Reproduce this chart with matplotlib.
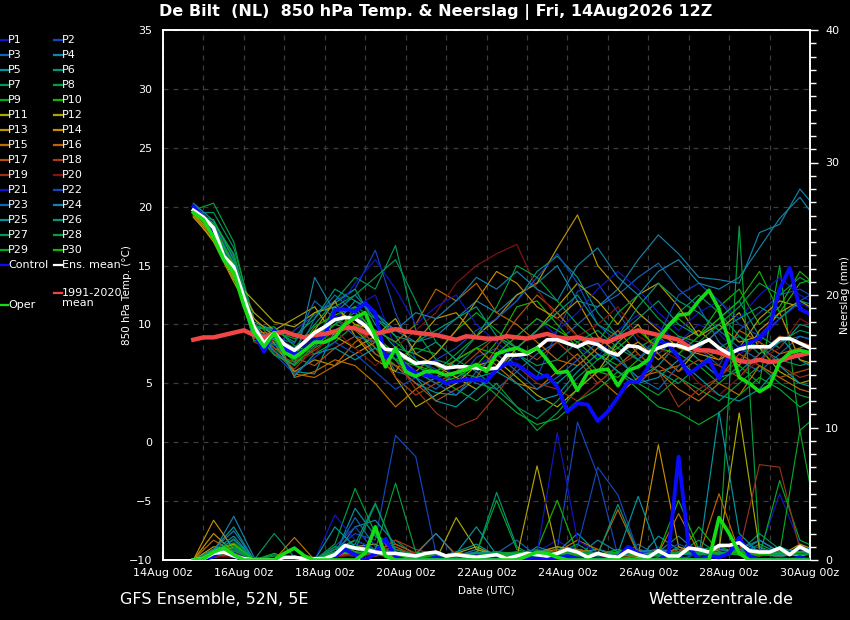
import matplotlib.pyplot as plt
from matplotlib.lines import Line2D
from matplotlib.ticker import MultipleLocator
import numpy as np

# ---- data (read off the Wetterzentrale plume, 14Aug2026 12Z run) ----
# 6-hourly series start 14Aug 18z, 12-hourly member series start 14Aug 18z
day_ticks = [0, 2, 4, 6, 8, 10, 12, 14, 16]
day_labels = ['14Aug 00z', '16Aug 00z', '18Aug 00z', '20Aug 00z', '22Aug 00z',
              '24Aug 00z', '26Aug 00z', '28Aug 00z', '30Aug 00z']

ens_mean = [19.7, 19.1, 18.2, 15.8, 14.9, 12.3, 9.8, 8.4, 9.3, 8.3, 7.8, 8.5, 9.3, 9.8,
            10.4, 10.6, 10.5, 9.9, 8.8, 7.9, 7.8, 7.2, 6.7, 6.8, 6.7, 6.3, 6.4, 6.4,
            6.3, 6.2, 6.3, 7.4, 7.4, 7.5, 8.0, 8.7, 8.7, 8.4, 8.1, 8.5, 8.3, 7.7, 7.4,
            8.2, 8.1, 7.6, 8.0, 8.3, 8.2, 7.9, 8.3, 8.7, 8.0, 7.5, 7.9, 8.1, 8.1, 8.1,
            8.8, 8.8, 8.4, 8.0]
control = [20.0, 19.0, 17.9, 15.6, 14.9, 11.9, 9.3, 7.7, 9.5, 8.1, 7.4, 7.8, 8.5, 9.1,
           11.2, 11.3, 11.1, 11.8, 11.0, 7.2, 7.7, 6.4, 5.9, 5.7, 5.5, 5.0, 5.2, 5.3,
           5.3, 5.2, 6.2, 6.7, 6.6, 6.0, 5.4, 5.7, 4.7, 2.6, 3.3, 3.2, 1.8, 2.6, 3.8,
           5.1, 5.1, 6.4, 8.6, 8.3, 7.2, 5.8, 6.4, 7.0, 5.4, 7.4, 8.0, 8.4, 8.9, 9.8,
           13.0, 14.8, 11.3, 10.9]
oper = [19.5, 18.9, 17.4, 15.5, 14.4, 11.6, 9.3, 8.1, 9.3, 7.6, 7.2, 7.8, 8.5, 8.5,
        8.9, 10.0, 10.6, 11.0, 9.0, 6.4, 8.0, 6.0, 5.6, 6.0, 6.0, 5.7, 5.9, 6.2, 6.6,
        6.0, 7.5, 7.8, 8.0, 7.6, 8.0, 7.0, 5.9, 6.0, 4.4, 5.9, 6.1, 6.2, 4.8, 6.1,
        6.4, 7.0, 8.8, 9.9, 10.8, 10.9, 12.0, 12.9, 11.3, 8.5, 5.5, 5.0, 4.3, 4.8,
        6.8, 7.6, 7.8, 7.6]
clim = [8.7, 8.9, 8.9, 9.1, 9.3, 9.5, 9.1, 8.9, 9.2, 9.4, 9.1, 8.9, 9.1, 9.2, 9.4,
        9.7, 9.7, 9.3, 9.2, 9.4, 9.6, 9.4, 9.3, 9.2, 9.1, 8.9, 8.7, 9.0, 8.9, 8.8,
        8.8, 9.0, 8.9, 8.8, 9.0, 9.2, 8.9, 8.8, 8.9, 8.7, 8.7, 8.5, 8.9, 9.2, 9.5,
        9.3, 9.1, 8.9, 8.7, 8.1, 7.8, 7.8, 7.6, 7.3, 6.9, 6.8, 7.0, 6.8, 6.9, 7.2,
        7.4, 7.6]

mean_precip = [0, 0.1, 0.5, 0.6, 0.3, 0.1, 0, 0, 0, 0.2, 0.2, 0.1, 0.1, 0.1, 0.4, 1.1,
               0.9, 0.8, 0.6, 0.5, 0.5, 0.4, 0.3, 0.5, 0.6, 0.3, 0.4, 0.3, 0.2, 0.3,
               0.4, 0.1, 0.3, 0.5, 0.4, 0.3, 0.5, 0.8, 0.6, 0.2, 0.5, 0.3, 0.2, 0.7,
               0.4, 0.2, 0.7, 0.3, 0.3, 0.9, 0.8, 0.6, 1.1, 1.1, 1.3, 0.7, 0.6, 0.6,
               0.9, 0.4, 1.0, 0.6]
control_precip = [0, 0, 0.3, 0.8, 0.3, 0, 0, 0, 0, 0, 0, 0, 0, 0, 0.3, 0.8, 0.4, 0,
                  0.5, 1.6, 0.2, 0, 0, 0, 0.2, 0, 0, 0, 0, 0, 0.1, 0.1, 0.1, 0.1, 0.1,
                  0.1, 0.1, 0.3, 0.1, 0.1, 0.1, 0.1, 0.2, 1.0, 0.5, 0.2, 0, 0.5, 7.8,
                  1.0, 0, 0.3, 0.2, 0.5, 1.7, 0.3, 0, 0, 0.1, 0, 0.2, 0]
oper_precip = [0, 0.1, 0.6, 0.9, 0.4, 0, 0, 0, 0, 0.5, 0.9, 0.3, 0, 0, 0, 0, 0, 0.5,
               2.5, 0.3, 0, 0, 0, 0, 0, 0, 0, 0, 0, 0, 0, 0, 0, 0.3, 0.6, 0.5, 0.2, 0,
               0, 0, 0, 0, 0, 0, 0, 0, 0, 0, 0, 0, 0, 0, 3.2, 2.0, 0.5, 0, 0, 0, 0, 0,
               0, 0]

member_temp = [
    [19.8, 18.0, 15.2, 9.5, 8.8, 7.5, 8.8, 10.6, 11.5, 12.5, 8.0, 6.5, 7.0, 5.5, 6.5, 7.5, 9.0, 10.5, 9.0, 8.0, 7.2, 9.5, 10.8, 9.8, 8.5, 10.0, 9.2, 7.5, 8.5, 10.5, 11.8, 11.0],
    [20.0, 17.8, 15.5, 9.0, 8.2, 9.5, 10.8, 12.0, 13.0, 16.3, 11.0, 7.0, 6.2, 5.0, 7.2, 8.0, 6.5, 5.5, 9.5, 12.8, 13.5, 11.0, 8.5, 7.5, 9.0, 8.0, 6.5, 9.5, 11.0, 12.5, 13.0, 12.0],
    [20.2, 18.4, 14.5, 10.0, 9.2, 7.0, 10.5, 12.5, 11.0, 9.0, 6.0, 5.5, 4.5, 6.0, 5.0, 4.5, 6.0, 7.5, 8.5, 10.0, 11.5, 12.5, 14.0, 15.2, 13.0, 11.5, 8.5, 7.0, 6.0, 7.5, 9.0, 8.5],
    [20.1, 18.6, 15.0, 9.2, 9.0, 8.0, 9.0, 10.0, 12.0, 11.0, 9.5, 8.5, 9.0, 10.5, 12.0, 11.0, 12.5, 13.5, 15.0, 12.0, 11.5, 13.0, 15.5, 17.6, 16.0, 14.0, 13.8, 13.5, 17.8, 18.5, 21.5, 19.5],
    [19.9, 18.1, 14.8, 9.0, 7.8, 6.0, 5.8, 9.5, 9.8, 7.5, 6.5, 5.0, 4.2, 4.0, 5.5, 6.0, 7.5, 6.0, 5.0, 6.5, 8.0, 7.0, 5.5, 6.5, 8.5, 7.0, 5.5, 6.0, 7.5, 9.0, 7.0, 6.0],
    [19.6, 18.3, 14.2, 10.2, 9.5, 8.5, 11.0, 11.8, 13.0, 10.0, 8.0, 7.5, 8.5, 7.0, 9.0, 10.5, 12.0, 14.5, 15.8, 14.0, 11.0, 9.0, 10.5, 12.0, 10.0, 9.0, 10.5, 12.0, 9.0, 8.0, 10.0, 9.5],
    [19.5, 19.5, 16.5, 10.5, 8.5, 8.0, 10.0, 12.0, 14.0, 13.0, 16.7, 9.5, 7.0, 6.5, 8.0, 9.0, 7.5, 6.5, 7.0, 8.5, 9.5, 8.0, 7.0, 8.5, 11.0, 12.5, 11.0, 9.0, 8.0, 7.0, 6.5, 7.0],
    [19.7, 20.3, 17.0, 9.8, 8.0, 6.5, 8.0, 9.0, 11.5, 10.5, 9.0, 6.5, 5.5, 4.5, 3.5, 5.0, 3.0, 1.0, 2.5, 4.5, 6.0, 7.5, 5.0, 4.0, 5.5, 4.5, 3.5, 5.0, 6.5, 5.0, 4.0, 3.5],
    [19.4, 18.0, 15.3, 9.6, 9.8, 8.2, 7.5, 8.5, 10.0, 9.0, 7.0, 8.0, 7.5, 9.5, 11.0, 9.5, 8.0, 9.5, 11.0, 9.0, 7.5, 6.5, 8.0, 9.0, 7.5, 6.5, 5.0, 6.5, 5.0, 15.0, 1.0, 2.5],
    [19.3, 17.7, 14.6, 9.0, 8.6, 6.8, 8.5, 10.0, 9.5, 8.0, 6.5, 6.0, 5.0, 5.5, 6.5, 8.5, 11.5, 12.0, 10.0, 8.0, 6.0, 5.5, 7.0, 9.0, 10.5, 9.0, 11.5, 13.0, 10.0, 11.5, 14.5, 13.0],
    [19.1, 17.2, 13.8, 12.0, 10.2, 9.8, 11.0, 11.5, 10.0, 9.5, 5.5, 3.0, 4.0, 5.0, 6.5, 7.0, 5.5, 4.0, 3.0, 4.5, 6.0, 8.5, 10.0, 7.5, 6.0, 8.0, 9.5, 11.0, 8.0, 6.0, 5.0, 5.5],
    [19.2, 17.5, 14.0, 11.0, 9.5, 10.5, 11.5, 9.0, 8.0, 9.0, 10.5, 7.5, 6.5, 5.5, 4.5, 6.0, 8.0, 9.5, 11.5, 13.5, 12.0, 10.0, 12.5, 13.5, 11.5, 9.0, 10.0, 8.5, 9.0, 11.0, 12.0, 11.0],
    [19.3, 17.0, 13.6, 10.5, 9.0, 7.8, 9.5, 12.0, 9.0, 7.0, 6.0, 8.5, 10.5, 11.0, 9.0, 10.5, 12.5, 13.5, 16.5, 19.3, 15.0, 13.0, 11.0, 9.5, 8.0, 7.5, 7.0, 8.0, 10.5, 12.0, 11.5, 10.0],
    [19.4, 17.6, 14.4, 10.0, 8.4, 6.0, 7.0, 6.5, 7.5, 8.5, 7.5, 6.0, 7.5, 9.5, 12.0, 14.5, 13.5, 11.5, 10.5, 12.0, 9.0, 7.5, 8.5, 7.0, 8.5, 9.5, 8.0, 6.5, 9.5, 11.0, 7.0, 6.5],
    [19.2, 17.4, 14.2, 9.4, 9.2, 5.5, 6.0, 7.0, 6.5, 5.0, 3.0, 4.5, 5.5, 7.0, 8.0, 6.5, 5.0, 4.5, 6.0, 7.5, 5.5, 4.0, 5.5, 6.0, 4.5, 3.5, 5.0, 4.0, 6.5, 5.5, 4.5, 4.0],
    [19.5, 17.9, 15.1, 8.8, 9.0, 5.8, 5.5, 6.5, 8.5, 9.5, 8.5, 10.0, 13.0, 12.0, 13.5, 11.0, 10.0, 8.5, 7.0, 6.5, 8.0, 9.5, 7.5, 6.0, 6.5, 8.0, 7.0, 9.5, 8.5, 7.5, 8.0, 8.5],
    [19.6, 18.2, 14.7, 9.2, 8.0, 7.2, 6.5, 8.0, 9.0, 7.5, 6.5, 5.0, 3.5, 4.5, 5.5, 8.0, 10.5, 12.5, 11.0, 9.0, 7.5, 6.0, 5.0, 6.5, 5.5, 4.0, 5.5, 7.5, 6.5, 5.5, 6.0, 6.5],
    [19.8, 18.5, 15.6, 9.5, 7.5, 6.8, 7.8, 9.0, 10.5, 8.0, 5.5, 4.0, 5.0, 6.0, 7.5, 9.0, 8.0, 7.0, 8.5, 7.0, 5.0, 6.5, 8.0, 7.5, 6.0, 7.0, 6.5, 5.5, 7.5, 9.0, 8.5, 8.0],
    [19.7, 18.3, 14.9, 8.5, 7.8, 6.2, 8.0, 10.5, 9.5, 8.5, 7.0, 4.5, 2.5, 1.3, 2.0, 4.0, 6.5, 5.0, 4.5, 3.5, 5.0, 6.5, 7.5, 6.0, 3.0, 4.5, 5.5, 7.0, 8.5, 6.5, 5.5, 6.0],
    [19.9, 18.7, 15.8, 9.0, 8.6, 7.0, 7.5, 9.5, 8.0, 6.5, 8.0, 9.5, 11.0, 13.5, 15.0, 16.0, 16.8, 13.0, 10.5, 9.0, 10.0, 11.5, 9.0, 8.0, 7.0, 5.0, 4.0, 5.5, 7.0, 8.0, 10.5, 9.5],
    [20.0, 18.2, 15.4, 9.6, 8.2, 7.6, 9.0, 11.0, 13.5, 15.5, 13.0, 10.0, 11.5, 12.5, 10.0, 8.5, 7.0, 8.0, 9.5, 11.0, 13.0, 14.5, 13.0, 11.0, 9.5, 11.0, 12.0, 10.5, 12.5, 14.0, 12.5, 11.5],
    [20.2, 18.5, 15.7, 9.8, 7.5, 5.8, 7.2, 8.5, 7.5, 6.0, 4.5, 5.5, 7.0, 8.0, 9.5, 10.5, 12.0, 14.0, 16.0, 13.5, 10.0, 8.5, 7.0, 9.0, 12.5, 13.5, 12.0, 10.0, 9.0, 10.5, 12.0, 13.0],
    [20.1, 18.0, 14.8, 9.3, 8.9, 8.4, 12.0, 10.5, 9.0, 8.5, 7.5, 6.0, 5.0, 4.0, 6.0, 7.5, 6.0, 4.5, 5.5, 7.0, 8.5, 7.0, 5.5, 4.5, 6.5, 8.0, 9.5, 8.0, 7.0, 8.5, 9.0, 8.5],
    [20.3, 18.8, 15.9, 10.0, 7.7, 6.5, 14.0, 11.0, 12.5, 10.5, 9.5, 11.0, 10.5, 12.0, 14.0, 13.0, 14.5, 13.0, 12.0, 15.0, 16.5, 14.0, 12.5, 14.5, 15.5, 13.5, 13.0, 14.0, 16.5, 19.0, 20.8, 18.5],
    [19.9, 17.9, 14.5, 8.6, 8.8, 5.6, 7.5, 8.0, 7.0, 8.0, 7.0, 5.5, 3.5, 3.0, 4.5, 6.0, 5.0, 3.5, 4.0, 6.0, 7.5, 6.0, 5.0, 5.5, 7.0, 5.5, 4.0, 3.5, 4.5, 6.5, 5.0, 4.5],
    [19.6, 18.4, 15.2, 9.7, 9.6, 9.0, 10.5, 13.0, 12.0, 11.0, 9.0, 8.5, 9.5, 10.5, 11.5, 9.0, 8.0, 9.5, 11.0, 12.5, 10.0, 9.0, 11.5, 13.5, 12.0, 11.0, 9.5, 10.5, 11.5, 10.5, 12.0, 11.5],
    [19.5, 18.1, 14.6, 9.1, 8.3, 7.0, 8.5, 11.5, 12.5, 14.0, 15.5, 12.0, 8.5, 7.0, 6.0, 4.5, 3.0, 2.0, 3.5, 5.5, 7.0, 8.5, 7.0, 6.0, 5.0, 6.5, 8.0, 9.0, 7.5, 8.5, 9.5, 9.0],
    [19.4, 18.6, 16.0, 9.9, 9.4, 8.8, 9.2, 10.0, 11.0, 9.5, 8.5, 7.0, 6.0, 7.5, 9.0, 11.5, 15.0, 14.0, 12.0, 10.0, 8.5, 11.0, 12.5, 10.5, 9.0, 8.5, 10.0, 11.5, 13.5, 12.5, 14.0, 13.0],
    [19.3, 18.9, 15.5, 9.4, 7.4, 6.6, 8.2, 9.5, 10.5, 9.0, 7.0, 6.5, 5.5, 6.0, 5.5, 4.0, 2.5, 1.5, 2.0, 3.5, 4.5, 6.0, 4.5, 3.0, 2.5, 1.5, 2.5, 4.0, 5.5, 4.5, 3.0, 4.0],
    [19.6, 18.2, 15.0, 9.3, 8.7, 7.3, 9.8, 10.8, 11.5, 9.0, 7.5, 6.5, 6.0, 7.0, 8.0, 7.5, 9.0, 10.5, 9.5, 8.5, 7.0, 8.0, 9.5, 8.0, 7.5, 9.0, 10.5, 12.0, 14.5, 11.0, 13.5, 14.0],
]

member_precip = [
    [0, 0.3, 0.8, 0, 0, 0, 0, 0.5, 1.2, 0.8, 0.3, 0, 0, 0.5, 0, 0.3, 0, 0.6, 1.5, 0.5, 0, 0.4, 0, 1.0, 0.3, 0, 0.8, 1.5, 0.6, 5.0, 1.2, 0.5],
    [0, 0.5, 0.3, 0, 0, 0.2, 0, 0.8, 2.0, 1.5, 9.4, 7.8, 0.5, 0, 0.4, 0, 0.3, 0.5, 0.8, 10.4, 6.4, 0.3, 0, 0.5, 0.2, 0, 0.4, 0.6, 1.0, 0.3, 0.5, 0.4],
    [0, 0.2, 0.5, 0, 0, 0, 0, 1.0, 0.6, 0.3, 0.5, 0, 0.2, 0, 0, 0.5, 1.5, 0.3, 0, 0.6, 0.4, 0, 1.2, 0.3, 0, 0.5, 0.3, 1.0, 0.5, 0.2, 0.6, 0.3],
    [0, 0.6, 3.3, 0.2, 0, 0, 0, 0.4, 2.5, 3.0, 1.2, 0.5, 0, 0.3, 0.8, 0.4, 0, 1.0, 0.5, 0.3, 1.5, 0.6, 0.3, 0.6, 1.8, 0.5, 0.2, 0.8, 1.5, 0.6, 0.4, 0.8],
    [0, 0.8, 2.5, 0, 0, 0, 0, 0.3, 3.9, 1.8, 0.6, 0, 0.2, 0.6, 1.2, 0.3, 0.5, 0, 0.6, 2.0, 0.5, 0.3, 0, 1.8, 0.8, 0.2, 11.2, 2.0, 0.5, 1.0, 0.4, 0.6],
    [0, 0.4, 1.0, 0, 0, 0.3, 0, 0.5, 1.5, 0.8, 0.4, 0, 0.3, 0.2, 0.5, 5.1, 1.0, 0.2, 0.5, 1.2, 0.3, 0.8, 0.4, 0.2, 1.0, 0.3, 0.6, 0.4, 1.2, 0.5, 0.8, 0.3],
    [0, 0.3, 0.6, 0, 2.0, 0.2, 0, 0.6, 1.0, 0.5, 1.5, 0.3, 0, 0.4, 0.2, 0.6, 0.3, 0.5, 1.0, 0.4, 0.2, 0.6, 0.8, 0.3, 0.5, 1.5, 0.4, 0.6, 2.0, 0.8, 0.5, 0.6],
    [0, 0.5, 0.8, 0, 0.3, 0, 0, 1.2, 5.4, 2.0, 0.8, 0.2, 0, 0.3, 0.5, 0.2, 0.4, 0.6, 0.3, 0.8, 0.5, 0.2, 0.3, 0.5, 0.8, 0.3, 0.6, 25.2, 1.0, 0.4, 0.6, 0.8],
    [0, 0.2, 0.5, 0, 0, 0, 0, 0.4, 0.8, 0.6, 0.3, 0, 0, 0.2, 0.5, 4.5, 0.8, 0.3, 0.6, 0.2, 0.4, 0.8, 0.3, 0.2, 0.5, 0.8, 1.0, 0.5, 0.3, 6.0, 1.5, 0.8],
    [0, 0.6, 1.2, 0, 0.5, 0, 0, 0.8, 1.5, 0.8, 0.5, 0.2, 0.3, 0, 0.6, 0.3, 0.5, 0.8, 4.5, 0.5, 0.3, 0.6, 0.2, 0.4, 0.3, 2.5, 0.6, 0.4, 0.5, 0.8, 0.6, 0.4],
    [0, 0.8, 1.2, 0, 0, 0, 0, 0.3, 0.6, 0.4, 0.2, 0, 0, 3.2, 0.8, 0.3, 0.5, 0.4, 0.3, 0.6, 0.8, 0.3, 0.2, 0.5, 0.6, 0.4, 0.8, 11.1, 0.8, 0.5, 0.3, 0.6],
    [0, 1.0, 0.8, 0, 0, 0, 0, 0.6, 0.8, 0.5, 0.3, 0.2, 0, 0.5, 1.0, 0.3, 0.2, 7.1, 0.5, 0.4, 0.3, 0.5, 0.8, 0.3, 0.4, 0.6, 0.3, 0.5, 0.8, 0.3, 1.2, 0.6],
    [0, 2.0, 0.6, 0, 0, 0, 0, 0.5, 1.0, 1.2, 0.4, 0, 0.2, 0.6, 0.3, 0.5, 0.4, 0.6, 1.0, 0.8, 0.5, 0.3, 0.6, 0.5, 0.8, 0.4, 0.5, 0.8, 0.4, 0.6, 0.5, 0.3],
    [0, 3.0, 0.8, 0, 0, 0, 0, 0.4, 0.6, 0.5, 0.3, 0, 0, 0.4, 0.5, 0.6, 0.3, 0.5, 0.8, 0.6, 0.4, 0.5, 0.3, 8.7, 1.0, 0.5, 0.8, 0.6, 0.5, 0.8, 0.4, 0.6],
    [0, 0.8, 0.4, 0, 0, 1.7, 0, 0.5, 0.8, 0.6, 1.0, 0.3, 0.5, 0.2, 0.6, 0.4, 0.3, 0.5, 0.6, 1.5, 0.8, 0.4, 0.6, 0.5, 3.5, 0.6, 0.4, 0.5, 0.8, 0.5, 0.6, 0.4],
    [0, 1.5, 0.6, 0, 0, 0.3, 0, 0.6, 0.5, 0.3, 0.6, 0.2, 0.3, 0.4, 0.2, 0.5, 0.6, 0.3, 0.4, 0.8, 0.5, 3.8, 0.4, 0.6, 0.5, 0.3, 5.0, 0.6, 0.4, 0.3, 0.5, 0.4],
    [0, 0.5, 0.3, 0, 0, 0, 0, 0.3, 0.5, 0.8, 1.2, 0.5, 2.0, 0.4, 0.3, 0.6, 0.5, 0.3, 0.8, 0.5, 0.3, 0.6, 0.4, 0.8, 0.5, 0.6, 0.3, 0.8, 0.5, 0.6, 0.4, 0.5],
    [0, 0.3, 0.5, 0, 0, 0, 0, 0.4, 0.3, 0.6, 1.5, 0.8, 0.4, 0.3, 0.5, 0.2, 0.4, 0.6, 0.3, 0.5, 0.4, 0.3, 0.6, 0.4, 0.8, 0.5, 0.6, 0.4, 0.3, 0.5, 0.6, 0.3],
    [0, 0.2, 0.4, 0, 0, 0, 0, 0.3, 0.5, 0.4, 0.8, 0.5, 0.3, 0.2, 0.4, 0.3, 0.5, 0.4, 0.6, 0.3, 0.5, 0.4, 0.3, 0.6, 0.5, 0.4, 0.3, 0.6, 7.2, 7.0, 0.8, 0.5],
    [0, 0.3, 0.2, 0, 0, 0, 0, 0.2, 0.4, 0.3, 0.6, 0.4, 0.2, 0.3, 0.2, 0.4, 0.3, 0.5, 0.3, 0.4, 0.3, 0.2, 0.4, 0.3, 0.6, 0.3, 0.4, 0.5, 0.6, 0.8, 0.5, 0.4],
    [0, 0.4, 0.6, 0, 0, 0, 0, 3.4, 1.5, 0.8, 0.5, 0.3, 0, 0.2, 0.4, 0.3, 0.6, 0.5, 9.6, 1.5, 0.5, 0.3, 0.6, 0.4, 0.5, 0.3, 0.5, 0.8, 0.6, 0.5, 0.8, 0.5],
    [0, 0.5, 0.8, 0, 0, 0, 0, 1.0, 2.5, 0.6, 0.4, 0.2, 0.3, 0.5, 0.3, 0.6, 0.4, 0.3, 0.5, 1.0, 7.0, 4.9, 0.6, 0.5, 1.2, 0.6, 0.4, 0.5, 0.8, 0.6, 0.5, 0.6],
    [0, 0.6, 1.5, 0, 0, 0, 0, 0.5, 3.2, 1.0, 0.6, 0.3, 0.2, 0.4, 0.6, 0.3, 0.5, 0.8, 0.4, 0.6, 0.5, 0.3, 0.8, 0.5, 0.6, 1.0, 0.5, 0.6, 0.8, 0.5, 0.6, 0.8],
    [0, 0.8, 2.2, 0, 0, 0, 0, 0.6, 0.8, 0.5, 0.3, 0.4, 2.0, 0.3, 0.5, 0.6, 0.4, 0.3, 0.6, 0.5, 0.8, 0.4, 0.6, 0.8, 0.5, 0.6, 0.8, 0.5, 1.5, 0.6, 0.8, 1.0],
    [0, 0.7, 1.8, 0, 0, 0, 0, 2.5, 1.0, 0.6, 0.4, 0.3, 0.2, 0.5, 2.5, 0.4, 0.3, 0.6, 0.4, 0.5, 0.3, 0.5, 4.8, 0.6, 0.4, 0.5, 0.6, 0.4, 0.5, 0.6, 0.4, 0.5],
    [0, 0.5, 1.6, 0, 0, 0, 0, 0.8, 1.2, 4.3, 0.6, 0.3, 0.4, 0.2, 0.6, 0.5, 0.4, 0.3, 0.5, 0.6, 0.4, 4.2, 0.5, 0.3, 0.6, 0.4, 0.5, 0.6, 0.5, 0.4, 0.6, 0.5],
    [0, 0.4, 0.9, 0, 0.4, 0, 0, 1.0, 0.8, 4.2, 0.8, 0.4, 0.2, 0.3, 0.5, 0.4, 0.6, 0.5, 0.4, 0.6, 0.5, 0.3, 0.4, 0.6, 0.5, 0.6, 0.4, 0.8, 0.6, 0.5, 0.6, 0.4],
    [0, 0.3, 0.7, 0, 0, 0, 0, 0.6, 1.0, 0.8, 5.8, 0.6, 0.3, 0.4, 0.3, 0.6, 0.5, 0.4, 0.6, 0.5, 0.3, 0.6, 0.5, 0.4, 0.6, 0.5, 0.3, 0.6, 0.5, 0.6, 0.4, 0.5],
    [0, 0.4, 1.1, 0, 0, 0, 0, 0.5, 0.6, 0.5, 0.4, 0.3, 0, 0.4, 0.5, 0.3, 0.6, 0.4, 0.5, 0.3, 0.4, 0.6, 0.3, 0.5, 0.4, 0.6, 0.5, 0.4, 0.6, 0.5, 9.8, 1.5],
    [0, 0.6, 1.3, 0, 0, 0, 0, 0.4, 0.8, 0.6, 0.3, 0.2, 0.3, 0.5, 0.3, 0.4, 0.5, 0.3, 0.6, 0.4, 0.5, 0.3, 0.4, 0.6, 4.5, 0.8, 0.5, 0.6, 0.4, 0.5, 0.6, 0.8],
]

member_colors = ['#1414c8', '#1446be', '#1464b4', '#1482aa', '#0096a0', '#009678',
                 '#00965a', '#00a03c', '#00aa28', '#14b400', '#aaaa00', '#b4a000',
                 '#be9600', '#c88c00', '#be6e00', '#be6400', '#b45014', '#aa3c14',
                 '#963214', '#821414'] * 2
member_names = ['P%d' % n for n in range(1, 31)]

t6 = 0.75 + 0.25 * np.arange(len(ens_mean))      # days after 14Aug 00z
t12 = 0.75 + 0.5 * np.arange(len(member_temp[0]))

# ---- figure ----
W, H = 850, 620
fig = plt.figure(figsize=(8.5, 6.2), dpi=100, facecolor='black')
ax = fig.add_axes([163 / W, 60 / H, 647 / W, 530 / H], facecolor='black')
ax2 = ax.twinx()

for name, temp, col in zip(member_names, member_temp, member_colors):
    ax.plot(t12, temp, color=col, lw=0.85, zorder=2)
ax.plot(t6, control, color='#0a0aff', lw=2.8, zorder=4)
ax.plot(t6, clim, color='#f04646', lw=3.2, zorder=5)
ax.plot(t6, ens_mean, color='white', lw=2.6, zorder=6)
ax.plot(t6, oper, color='#14dc14', lw=2.6, zorder=7)

for prec, col in zip(member_precip, member_colors):
    ax2.plot(t12, prec, color=col, lw=0.85, zorder=2)
ax2.plot(t6, control_precip, color='#0a0aff', lw=2.8, zorder=4)
ax2.plot(t6, mean_precip, color='white', lw=2.6, zorder=6)
ax2.plot(t6, oper_precip, color='#14dc14', lw=2.6, zorder=7)

ax.set_xlim(0, 16)
ax.set_ylim(-10, 35)
ax2.set_ylim(0, 40)
ax.set_xticks(day_ticks)
ax.set_xticklabels(day_labels)
ax.xaxis.set_minor_locator(MultipleLocator(1))
ax.yaxis.set_major_locator(MultipleLocator(5))
ax.grid(which='both', color='#3c3c3c', linestyle=(0, (4, 4)), lw=0.9)
ax.set_axisbelow(True)
ax.tick_params(axis='both', which='both', length=0, colors='white', labelsize=8)
ax.tick_params(axis='y', pad=8)
ax.tick_params(axis='x', pad=6)

ax2.yaxis.set_major_locator(MultipleLocator(10))
ax2.yaxis.set_minor_locator(MultipleLocator(1))
ax2.tick_params(axis='y', which='major', length=6, width=1, colors='white', labelsize=8, pad=5)
ax2.tick_params(axis='y', which='minor', length=4, width=1, colors='white')

for a in (ax, ax2):
    for sp in a.spines.values():
        sp.set_color('white')
        sp.set_linewidth(1.2)

ax.set_ylabel('850 hPa Temp. (°C)', color='white', fontsize=7.5)
ax.yaxis.set_label_coords((132 - 163) / 647, 0.5)
ax2.set_ylabel('Neerslag (mm)', color='white', fontsize=7.5)
ax2.yaxis.set_label_coords((840 - 163) / 647, 0.5)
ax.set_xlabel('Date (UTC)', color='white', fontsize=7.5, labelpad=5)

fig.text(436 / W, 1 - 12 / H, 'De Bilt  (NL)  850 hPa Temp. & Neerslag | Fri, 14Aug2026 12Z',
         color='white', fontsize=11.5, fontweight='bold', ha='center', va='center')
fig.text(120 / W, 1 - 599 / H, 'GFS Ensemble, 52N, 5E', color='white', fontsize=11.5,
         ha='left', va='center')
fig.text(793 / W, 1 - 599 / H, 'Wetterzentrale.de', color='white', fontsize=11.5,
         ha='right', va='center')


# ---- hand-built legend (two columns, pixel positions) ----
def legend_entry(x, y, col, label, lw=1.6):
    fig.add_artist(Line2D([x / W, (x + 8) / W], [1 - y / H, 1 - y / H],
                          color=col, lw=lw, transform=fig.transFigure))
    fig.text((x + 8) / W, 1 - y / H, label, color='white', fontsize=8,
             ha='left', va='center', linespacing=0.95)


for n in range(30):
    col_x = 0 if n % 2 == 0 else 54
    row_y = 40 + 15 * (n // 2)
    legend_entry(col_x, row_y, member_colors[n], member_names[n])
legend_entry(0, 265, '#0a0aff', 'Control')
legend_entry(54, 265, 'white', 'Ens. mean')
fig.add_artist(Line2D([54 / W, 62 / W], [1 - 293 / H, 1 - 293 / H], color='#f04646', lw=1.6,
                      transform=fig.transFigure))
fig.text(62 / W, 1 - 298 / H, '1991-2020\nmean', color='white', fontsize=8,
         ha='left', va='center', linespacing=0.95)
legend_entry(0, 305, '#14dc14', 'Oper')

fig.savefig('out.png', dpi=100, facecolor='black')
